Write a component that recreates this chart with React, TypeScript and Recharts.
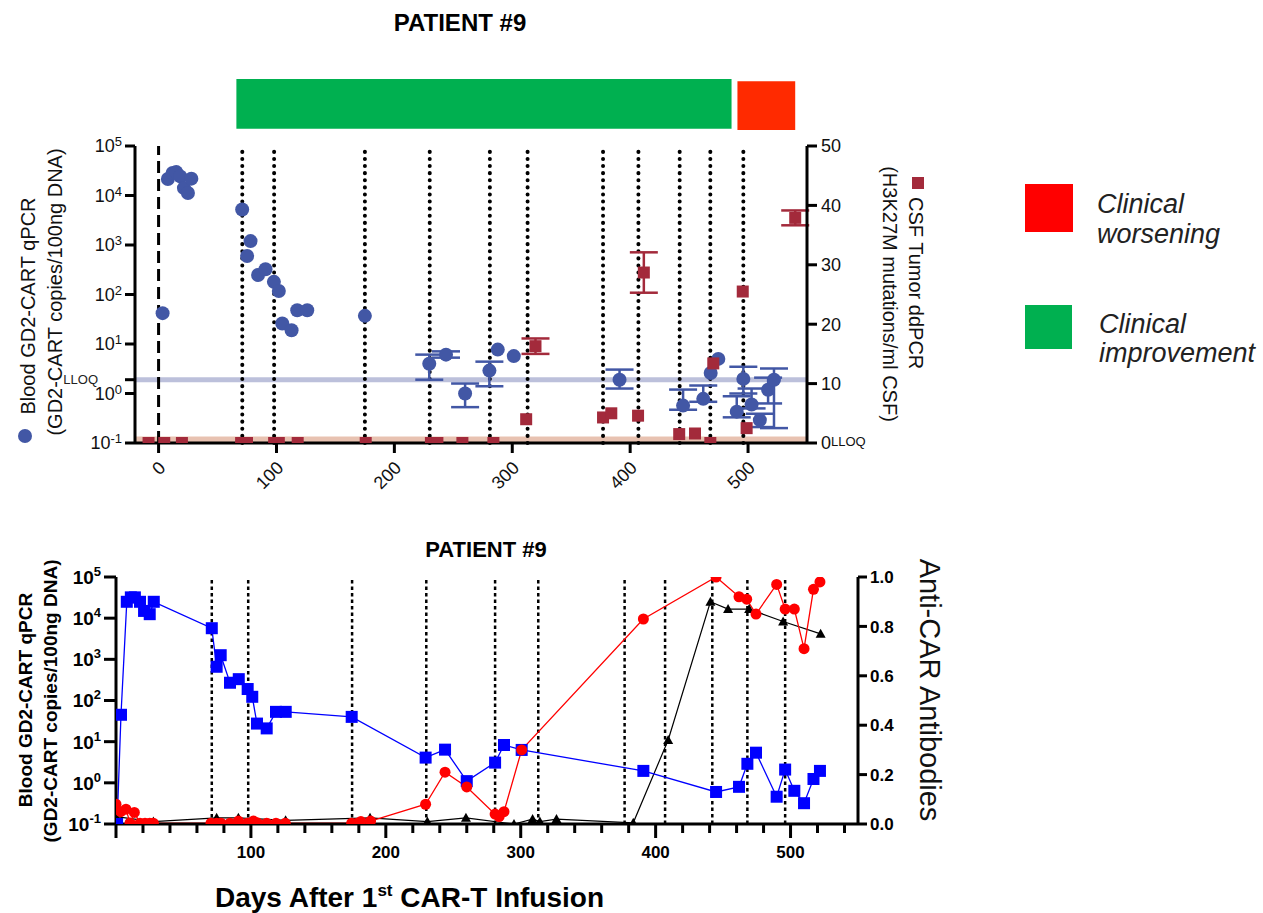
import React from 'react';
import {
  ComposedChart,
  Scatter,
  Line,
  XAxis,
  YAxis,
  ReferenceLine,
  ReferenceArea,
  ErrorBar,
} from 'recharts';

const FONT = '"Liberation Sans", Arial, Helvetica, sans-serif';

// ---------- shared ----------
const dosingDays = [71, 98, 175, 230, 281, 313, 377, 407, 442, 468, 496];
const improvementPeriod = [66, 486];
const worseningPeriod = [491, 540];
const LLOQ_BLOOD = 1.9;

// ---------- top panel: blood qPCR (log, left) ----------
const topBlood = [
  { x: 3.4, y: 42 },
  { x: 7.9, y: 21500 },
  { x: 11.9, y: 28500 },
  { x: 15, y: 29700 },
  { x: 18.4, y: 24300 },
  { x: 21.5, y: 14100 },
  { x: 24.9, y: 11200 },
  { x: 27.8, y: 21900 },
  { x: 70.9, y: 5200 },
  { x: 75.1, y: 600 },
  { x: 78, y: 1200 },
  { x: 84.4, y: 247 },
  { x: 90.7, y: 323 },
  { x: 97.8, y: 180 },
  { x: 102, y: 118 },
  { x: 104.9, y: 26 },
  { x: 112.8, y: 19 },
  { x: 117.6, y: 48 },
  { x: 126.1, y: 48 },
  { x: 175, y: 37 },
  { x: 229.6, y: 4.0, e: [2.1, 2.1] },
  { x: 243.8, y: 6.1, e: [0.8, 1.0] },
  { x: 260, y: 1.0, e: [0.47, 0.59] },
  { x: 280.6, y: 2.9, e: [1.5, 1.5] },
  { x: 287.7, y: 7.7 },
  { x: 301.3, y: 5.7 },
  { x: 391, y: 1.9, e: [0.64, 1.14] },
  { x: 444.9, y: 0.57, e: [0.1, 0.63] },
  { x: 462, y: 0.78, e: [0.1, 0.67] },
  { x: 468.3, y: 2.6 },
  { x: 474.8, y: 5.0 },
  { x: 490.4, y: 0.43, e: [0.1, 0.45] },
  { x: 496, y: 1.97, e: [0.97, 1.5] },
  { x: 503, y: 0.6, e: [0.1, 0.66] },
  { x: 510, y: 0.29, e: [0.08, 0.1] },
  { x: 517, y: 1.19, e: [0.56, 0.9] },
  { x: 522, y: 1.9, e: [1.7, 1.3] },
];

// ---------- top panel: CSF ddPCR (linear, right) ----------
const topCsf = [
  { x: -8.5, y: 0 },
  { x: 4.8, y: 0 },
  { x: 19.8, y: 0 },
  { x: 70, y: 0 },
  { x: 75, y: 0 },
  { x: 98, y: 0 },
  { x: 102, y: 0 },
  { x: 118, y: 0 },
  { x: 175.7, y: 0 },
  { x: 231, y: 0 },
  { x: 236.5, y: 0 },
  { x: 257.7, y: 0 },
  { x: 284, y: 0 },
  { x: 311.8, y: 4.0 },
  { x: 319.7, y: 16.3, e: 1.3 },
  { x: 377, y: 4.3 },
  { x: 384, y: 5.0 },
  { x: 406.7, y: 4.6 },
  { x: 411.6, y: 28.7, e: 3.4 },
  { x: 441.6, y: 1.5 },
  { x: 455, y: 1.6 },
  { x: 468, y: 0 },
  { x: 470.5, y: 13.4 },
  { x: 495.5, y: 25.5 },
  { x: 498.8, y: 2.5 },
  { x: 540, y: 37.9, e: 1.25 },
];

const topLeftTicks = [0.1, 1, LLOQ_BLOOD, 10, 100, 1000, 10000, 100000];
const topRightTicks = [0, 10, 20, 30, 40, 50];
const topXTicks = [0, 100, 200, 300, 400, 500];

// ---------- bottom panel ----------
const bottomBlood = [
  { x: 0.8, y: 0.1 },
  { x: 3.7, y: 45 },
  { x: 8, y: 25000 },
  { x: 11, y: 32000 },
  { x: 14, y: 32000 },
  { x: 17.8, y: 25000 },
  { x: 20.8, y: 15000 },
  { x: 25, y: 12500 },
  { x: 28, y: 25000 },
  { x: 71, y: 5700 },
  { x: 74.6, y: 660 },
  { x: 77.6, y: 1260 },
  { x: 84.5, y: 270 },
  { x: 91, y: 330 },
  { x: 97.6, y: 190 },
  { x: 101, y: 123 },
  { x: 104.5, y: 27.5 },
  { x: 111.7, y: 21 },
  { x: 118.6, y: 53 },
  { x: 125.8, y: 53 },
  { x: 174.7, y: 40 },
  { x: 229.5, y: 4.1 },
  { x: 243.9, y: 6.4 },
  { x: 260, y: 1.1 },
  { x: 281, y: 3.1 },
  { x: 287.6, y: 8.3 },
  { x: 300.7, y: 6.3 },
  { x: 390.9, y: 1.95 },
  { x: 444.8, y: 0.6 },
  { x: 461.8, y: 0.8 },
  { x: 468, y: 2.9 },
  { x: 474.4, y: 5.4 },
  { x: 489.7, y: 0.46 },
  { x: 496, y: 2.1 },
  { x: 502.8, y: 0.64 },
  { x: 510, y: 0.32 },
  { x: 517, y: 1.24 },
  { x: 521.8, y: 1.95 },
];

const bottomRed = [
  { x: 0, y: 0.08 },
  { x: 3.5, y: 0.05 },
  { x: 7.4, y: 0.06 },
  { x: 10.4, y: 0.004 },
  { x: 13.6, y: 0.047 },
  { x: 17.8, y: 0.003 },
  { x: 21.5, y: 0.003 },
  { x: 25, y: 0.003 },
  { x: 27.7, y: 0.003 },
  { x: 70.4, y: 0.003 },
  { x: 74.6, y: 0.003 },
  { x: 77.8, y: 0.003 },
  { x: 84.5, y: 0.003 },
  { x: 90.7, y: 0.012 },
  { x: 97.3, y: 0.003 },
  { x: 101.8, y: 0.012 },
  { x: 104.7, y: 0.005 },
  { x: 111.7, y: 0.003 },
  { x: 118.6, y: 0.003 },
  { x: 125.5, y: 0.003 },
  { x: 174.7, y: 0.003 },
  { x: 178.9, y: 0.003 },
  { x: 181.5, y: 0.01 },
  { x: 188.7, y: 0.012 },
  { x: 229.5, y: 0.08 },
  { x: 243.9, y: 0.21 },
  { x: 260, y: 0.15 },
  { x: 281, y: 0.04 },
  { x: 284, y: 0.03 },
  { x: 287.6, y: 0.05 },
  { x: 300.7, y: 0.3 },
  { x: 390.9, y: 0.83 },
  { x: 444.8, y: 1.0 },
  { x: 461.8, y: 0.92 },
  { x: 467.5, y: 0.91 },
  { x: 474.4, y: 0.85 },
  { x: 489.7, y: 0.97 },
  { x: 496, y: 0.87 },
  { x: 502.8, y: 0.87 },
  { x: 510, y: 0.71 },
  { x: 517, y: 0.95 },
  { x: 521.8, y: 0.98 },
];

const bottomBlack = [
  { x: 0, y: 0.03 },
  { x: 27.7, y: 0.01 },
  { x: 74.6, y: 0.025 },
  { x: 90.7, y: 0.025 },
  { x: 125.7, y: 0.015 },
  { x: 188.3, y: 0.025 },
  { x: 230.8, y: 0.01 },
  { x: 259.4, y: 0.025 },
  { x: 295, y: 0 },
  { x: 308.8, y: 0.02 },
  { x: 314.2, y: 0.01 },
  { x: 326.5, y: 0.02 },
  { x: 383.4, y: 0.005 },
  { x: 409.3, y: 0.34 },
  { x: 440.6, y: 0.9 },
  { x: 453.7, y: 0.87 },
  { x: 469.3, y: 0.87 },
  { x: 494.5, y: 0.82 },
  { x: 522.3, y: 0.77 },
];

const bottomLeftTicks = [0.1, 1, 10, 100, 1000, 10000, 100000];
const bottomRightTicks = [0, 0.2, 0.4, 0.6, 0.8, 1.0];
const bottomXTicks = Array.from({ length: 28 }, (_, i) => i * 20);

// ---------- colours ----------
const C_BLOOD = '#4257a5';
const C_CSF = '#a32a3b';

// ---------- ticks ----------
function TopXTick(props: any) {
  const { x, y, payload } = props;
  return (
    <g transform={`translate(${x + 8},${y + 14})`}>
      <text transform="rotate(-45)" textAnchor="end" fontSize={18} fontFamily={FONT} fill="#111">
        {payload.value}
      </text>
    </g>
  );
}

function TopLeftTick(props: any) {
  const { x, y, payload } = props;
  const v = payload.value;
  if (v === LLOQ_BLOOD) {
    return (
      <text x={x - 24} y={y} dy="0.36em" textAnchor="end" fontSize={13} fontFamily={FONT} fill="#222">
        LLOQ
      </text>
    );
  }
  const exp = Math.round(Math.log10(v));
  return (
    <text x={x} y={y} dy="0.36em" textAnchor="end" fontSize={18} fontFamily={FONT} fill="#111">
      <tspan>10</tspan>
      <tspan dy={-6} fontSize={13}>{exp < 0 ? `-${-exp}` : exp}</tspan>
    </text>
  );
}

function TopRightTick(props: any) {
  const { x, y, payload } = props;
  const v = payload.value;
  return (
    <text x={x} y={y} dy="0.36em" textAnchor="start" fontSize={18} fontFamily={FONT} fill="#111">
      <tspan>{v}</tspan>
      {v === 0 ? <tspan dy={-3} fontSize={13}>LLOQ</tspan> : null}
    </text>
  );
}

function BottomLeftTick(props: any) {
  const { x, y, payload } = props;
  const exp = Math.round(Math.log10(payload.value));
  return (
    <text x={x} y={y} dy="0.36em" textAnchor="end" fontSize={19} fontWeight="bold" fontFamily={FONT} fill="#000">
      <tspan>10</tspan>
      <tspan dy={-8} fontSize={13}>{exp < 0 ? `-${-exp}` : exp}</tspan>
    </text>
  );
}

function BottomRightTick(props: any) {
  const { x, y, payload } = props;
  return (
    <text x={x} y={y} dy="0.36em" textAnchor="start" fontSize={17} fontWeight="bold" fontFamily={FONT} fill="#000">
      {Number(payload.value).toFixed(1)}
    </text>
  );
}

function BottomXTick(props: any) {
  const { x, y, payload } = props;
  const v = payload.value;
  const major = v % 100 === 0;
  return (
    <g>
      <line x1={x} x2={x} y1={y} y2={y + (major ? 14 : 9)} stroke="#000" strokeWidth={3} />
      {major && v > 0 ? (
        <text x={x} y={y + 34} textAnchor="middle" fontSize={17} fontWeight="bold" fontFamily={FONT} fill="#000">
          {v}
        </text>
      ) : null}
    </g>
  );
}

// ---------- shapes ----------
const BloodCircle = (p: any) => <circle cx={p.cx} cy={p.cy} r={7} fill={C_BLOOD} />;
const CsfSquare = (p: any) => <rect x={p.cx - 6} y={p.cy - 6} width={12} height={12} fill={C_CSF} />;

const BlueSquareDot = (p: any) => (
  <rect key={`bs-${p.index}`} x={p.cx - 6} y={p.cy - 6} width={12} height={12} fill="#0000ff" />
);
const RedCircleDot = (p: any) => <circle key={`rc-${p.index}`} cx={p.cx} cy={p.cy} r={5.5} fill="#ff0000" />;
const BlackTriDot = (p: any) => (
  <polygon
    key={`bt-${p.index}`}
    points={`${p.cx},${p.cy - 5} ${p.cx - 5},${p.cy + 4} ${p.cx + 5},${p.cy + 4}`}
    fill="#000"
  />
);

const axisStroke = { stroke: '#000', strokeWidth: 3 };

export default function App() {
  return (
    <div
      style={{
        position: 'absolute',
        left: 0,
        top: 0,
        width: 1263,
        height: 913,
        background: '#fff',
        fontFamily: FONT,
        overflow: 'hidden',
      }}
    >
      {/* ---------------- TOP PANEL ---------------- */}
      <div style={{ position: 'absolute', left: 0, top: 0 }}>
        <ComposedChart width={960} height={500} margin={{ top: 146, right: 93, bottom: 27, left: 75 }}>
          <XAxis
            type="number"
            dataKey="x"
            domain={[-20, 550]}
            ticks={topXTicks}
            interval={0}
            allowDataOverflow
            height={30}
            axisLine={axisStroke}
            tickLine={axisStroke}
            tickSize={10}
            tickMargin={2}
            tick={TopXTick}
          />
          <YAxis
            yAxisId="left"
            type="number"
            scale="log"
            domain={[0.1, 100000]}
            ticks={topLeftTicks}
            interval={0}
            allowDataOverflow
            width={60}
            axisLine={axisStroke}
            tickLine={axisStroke}
            tickSize={10}
            tickMargin={3}
            tick={TopLeftTick}
          />
          <YAxis
            yAxisId="right"
            orientation="right"
            type="number"
            domain={[0, 50]}
            ticks={topRightTicks}
            interval={0}
            allowDataOverflow
            width={60}
            axisLine={axisStroke}
            tickLine={axisStroke}
            tickSize={10}
            tickMargin={4}
            tick={TopRightTick}
          />

          <ReferenceArea
            yAxisId="right"
            x1={improvementPeriod[0]}
            x2={improvementPeriod[1]}
            y1={52.9}
            y2={61.3}
            fill="#00b050"
            fillOpacity={1}
            stroke="none"
            ifOverflow="visible"
          />
          <ReferenceArea
            yAxisId="right"
            x1={worseningPeriod[0]}
            x2={worseningPeriod[1]}
            y1={52.7}
            y2={60.9}
            fill="#ff2a00"
            fillOpacity={1}
            stroke="none"
            ifOverflow="visible"
          />

          <ReferenceArea
            yAxisId="right"
            x1={-20}
            x2={550}
            y1={0}
            y2={1.1}
            fill="#e6bba8"
            fillOpacity={0.9}
            stroke="none"
          />
          <ReferenceLine yAxisId="left" y={LLOQ_BLOOD} stroke="#bcc0db" strokeWidth={5} />

          <ReferenceLine yAxisId="left" x={0} stroke="#000" strokeWidth={3} strokeDasharray="12 6" />
          {dosingDays.map((d) => (
            <ReferenceLine
              key={`top-d-${d}`}
              yAxisId="left"
              x={d}
              stroke="#000"
              strokeWidth={4}
              strokeDasharray="0.1 7"
              strokeLinecap="round"
            />
          ))}

          <Scatter
            yAxisId="left"
            data={topBlood}
            dataKey="y"
            shape={BloodCircle}
            isAnimationActive={false}
          >
            <ErrorBar dataKey="e" direction="y" width={14} stroke={C_BLOOD} strokeWidth={2.5} />
          </Scatter>
          <Scatter
            yAxisId="right"
            data={topCsf}
            dataKey="y"
            shape={CsfSquare}
            isAnimationActive={false}
          >
            <ErrorBar dataKey="e" direction="y" width={14} stroke={C_CSF} strokeWidth={2.5} />
          </Scatter>
        </ComposedChart>
      </div>

      {/* ---------------- BOTTOM PANEL ---------------- */}
      <div style={{ position: 'absolute', left: 0, top: 500 }}>
        <ComposedChart width={960} height={413} margin={{ top: 77, right: 42, bottom: 59, left: 56 }}>
          <XAxis
            type="number"
            dataKey="x"
            domain={[0, 550]}
            ticks={bottomXTicks}
            interval={0}
            allowDataOverflow
            height={30}
            axisLine={axisStroke}
            tickLine={false}
            tickSize={0}
            tickMargin={0}
            tick={BottomXTick}
          />
          <YAxis
            yAxisId="left"
            type="number"
            scale="log"
            domain={[0.1, 100000]}
            ticks={bottomLeftTicks}
            interval={0}
            allowDataOverflow
            width={60}
            axisLine={axisStroke}
            tickLine={axisStroke}
            tickSize={12}
            tickMargin={3}
            tick={BottomLeftTick}
          />
          <YAxis
            yAxisId="right"
            orientation="right"
            type="number"
            domain={[0, 1]}
            ticks={bottomRightTicks}
            interval={0}
            allowDataOverflow
            width={60}
            axisLine={axisStroke}
            tickLine={axisStroke}
            tickSize={9}
            tickMargin={3}
            tick={BottomRightTick}
          />

          {dosingDays.map((d) => (
            <ReferenceLine
              key={`bot-d-${d}`}
              yAxisId="left"
              x={d}
              stroke="#000"
              strokeWidth={2.5}
              strokeDasharray="3.5 3"
            />
          ))}

          <Line
            yAxisId="right"
            data={bottomBlack}
            dataKey="y"
            type="linear"
            stroke="#000"
            strokeWidth={1.2}
            dot={BlackTriDot}
            activeDot={false}
            isAnimationActive={false}
          />
          <Line
            yAxisId="left"
            data={bottomBlood}
            dataKey="y"
            type="linear"
            stroke="#0000ff"
            strokeWidth={1.3}
            dot={BlueSquareDot}
            activeDot={false}
            isAnimationActive={false}
          />
          <Line
            yAxisId="right"
            data={bottomRed}
            dataKey="y"
            type="linear"
            stroke="#ff0000"
            strokeWidth={1.3}
            dot={RedCircleDot}
            activeDot={false}
            isAnimationActive={false}
          />
        </ComposedChart>
      </div>

      {/* ---------------- TEXT OVERLAY ---------------- */}
      <svg
        width={1263}
        height={913}
        style={{ position: 'absolute', left: 0, top: 0, pointerEvents: 'none' }}
        fontFamily={FONT}
      >
        {/* top title */}
        <text x={460} y={31} textAnchor="middle" fontSize={24} fontWeight="bold" fill="#000">
          PATIENT #9
        </text>

        {/* top left axis label */}
        <circle cx={25} cy={436} r={7} fill={C_BLOOD} />
        <text transform="translate(35,306) rotate(-90)" textAnchor="middle" fontSize={20} fill="#111">
          Blood GD2-CART qPCR
        </text>
        <text transform="translate(62,292) rotate(-90)" textAnchor="middle" fontSize={20} fill="#111">
          (GD2-CART copies/100ng DNA)
        </text>

        {/* top right axis label */}
        <rect x={912} y={177} width={12} height={12} fill={C_CSF} />
        <text transform="translate(909,197) rotate(90)" textAnchor="start" fontSize={20} fill="#111">
          CSF Tumor ddPCR
        </text>
        <text transform="translate(883,294) rotate(90)" textAnchor="middle" fontSize={20} fill="#111">
          (H3K27M mutations/ml CSF)
        </text>

        {/* clinical legend */}
        <rect x={1025} y={184} width={48} height={48} fill="#ff0000" />
        <text x={1097} y={213} fontSize={27} fontStyle="italic" fill="#222">
          Clinical
        </text>
        <text x={1097} y={243} fontSize={27} fontStyle="italic" fill="#222">
          worsening
        </text>
        <rect x={1025} y={305} width={47} height={44} fill="#00b050" />
        <text x={1099} y={333} fontSize={27} fontStyle="italic" fill="#222">
          Clinical
        </text>
        <text x={1099} y={362} fontSize={27} fontStyle="italic" fill="#222">
          improvement
        </text>

        {/* bottom title */}
        <text x={486} y={557} textAnchor="middle" fontSize={22} fontWeight="bold" fill="#000">
          PATIENT #9
        </text>

        {/* bottom left axis label */}
        <text transform="translate(32,700) rotate(-90)" textAnchor="middle" fontSize={19} fontWeight="bold" fill="#000">
          Blood GD2-CART qPCR
        </text>
        <text transform="translate(57,701) rotate(-90)" textAnchor="middle" fontSize={19} fontWeight="bold" fill="#000">
          (GD2-CART copies/100ng DNA)
        </text>

        {/* bottom right axis label */}
        <text transform="translate(920,690) rotate(90)" textAnchor="middle" fontSize={29} fill="#111">
          Anti-CAR Antibodies
        </text>

        {/* bottom x axis label */}
        <text x={215} y={907} fontSize={28} fontWeight="bold" fill="#000">
          <tspan>Days After 1</tspan>
          <tspan dy={-11} fontSize={17}>st</tspan>
          <tspan dy={11}> CAR-T Infusion</tspan>
        </text>
      </svg>
    </div>
  );
}
